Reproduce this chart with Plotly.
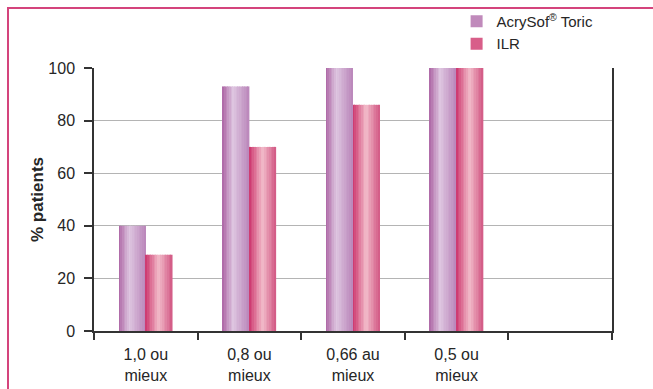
import plotly.graph_objects as go

# Visual acuity thresholds (last slot left empty on the axis)
categories = ["1,0 ou<br>mieux", "0,8 ou<br>mieux", "0,66 au<br>mieux", "0,5 ou<br>mieux", " "]
acrysof = [40, 93, 100, 100]
ilr = [29, 70, 86, 100]
series_names = ["AcrySof<sup>®</sup> Toric", "ILR"]

# Horizontal gradient stops (position across the bar, colour)
grad_acrysof = [(0.0, (172, 100, 164)), (0.4, (222, 198, 224)), (1.0, (186, 134, 186))]
grad_ilr = [(0.0, (204, 52, 108)), (0.5, (242, 188, 202)), (1.0, (210, 88, 132))]

FONT = "Liberation Sans Narrow, Arial Narrow, Liberation Sans, sans-serif"


def lerp_color(stops, t):
    for (p0, c0), (p1, c1) in zip(stops[:-1], stops[1:]):
        if p0 <= t <= p1:
            f = (t - p0) / (p1 - p0) if p1 > p0 else 0
            return "rgb({},{},{})".format(*[round(a + (b - a) * f) for a, b in zip(c0, c1)])
    return "rgb({},{},{})".format(*stops[-1][1])


fig = go.Figure()
bar_w = 0.258
n_strips = 16
strip_w = bar_w / n_strips
x_cats = categories[:4]

for s_idx, (vals, stops, name) in enumerate(
    [(acrysof, grad_acrysof, series_names[0]), (ilr, grad_ilr, series_names[1])]
):
    start = -bar_w if s_idx == 0 else 0.0
    for k in range(n_strips):
        t = (k + 0.5) / n_strips
        fig.add_trace(go.Bar(
            x=x_cats, y=vals,
            offset=start + k * strip_w,
            width=strip_w * 1.08 if k < n_strips - 1 else strip_w,
            marker=dict(color=lerp_color(stops, t), line=dict(width=0)),
            name=name,
            legendgroup=name,
            showlegend=(k == 2),
            hoverinfo="skip",
        ))

fig.update_layout(
    width=653, height=389,
    margin=dict(l=94, r=41, t=68, b=58, autoexpand=False),
    barmode="overlay",
    paper_bgcolor="white", plot_bgcolor="white",
    font=dict(family=FONT, size=16, color="#262626"),
    showlegend=True,
    legend=dict(
        x=0.70, y=1.24, xanchor="left", yanchor="top",
        font=dict(family=FONT, size=15, color="#262626"),
        bgcolor="rgba(0,0,0,0)",
        tracegroupgap=0,
    ),
    xaxis=dict(
        type="category",
        categoryorder="array", categoryarray=categories,
        range=[-0.5, 4.5],
        tickson="boundaries",
        ticks="outside", ticklen=7, tickwidth=1.5, tickcolor="#333333",
        showline=True, linecolor="#333333", linewidth=1.5,
        showgrid=False,
        ticklabelstandoff=8,
        tickfont=dict(family=FONT, size=16, color="#262626"),
    ),
    yaxis=dict(
        range=[0, 100],
        tickvals=[0, 20, 40, 60, 80, 100],
        ticks="outside", ticklen=8, tickwidth=1.5, tickcolor="#333333",
        showline=True, linecolor="#333333", linewidth=1.5, mirror=True,
        showgrid=True, gridcolor="#b4b4b4", gridwidth=1.2,
        zeroline=False,
        ticklabelstandoff=6,
        tickfont=dict(family=FONT, size=16, color="#262626"),
        title=dict(text="<b>% patients</b>", font=dict(family=FONT, size=17, color="#262626"), standoff=0),
    ),
)

# Pink frame around the whole figure
fig.add_shape(
    type="rect", xref="paper", yref="paper",
    x0=(8 - 94) / 518, x1=(660 - 94) / 518,
    y0=(331 - 400) / 263, y1=(331 - 8) / 263,
    line=dict(color="#d4447c", width=2), fillcolor="rgba(0,0,0,0)",
    layer="above",
)

fig.write_html("out.html")
